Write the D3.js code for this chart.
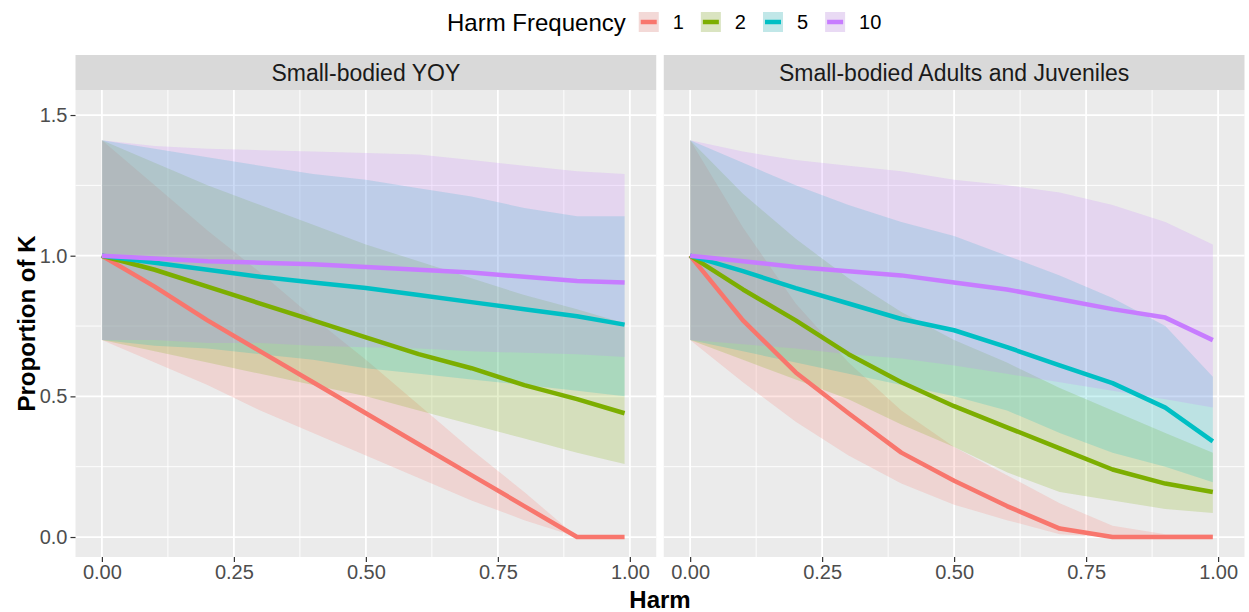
<!DOCTYPE html>
<html lang="en">
<head>
<meta charset="utf-8" />
<title>Proportion of K by Harm</title>
<style>
   body { margin:0; background:#fff; font-family:"Liberation Sans", Arial, sans-serif; }
   text { font-family:"Liberation Sans", Arial, sans-serif; }
   .tick text { font-size:20px; fill:#4D4D4D; }
   .tick line { stroke:#333333; stroke-width:1.2; }
   .domain { display:none; }
</style>
<script src="https://d3js.org/d3.v7.min.js"></script>
</head>
<body>
<svg id="main" width="1249" height="612"></svg>
<script>
// data
var harm = [0, 0.1, 0.2, 0.3, 0.4, 0.5, 0.6, 0.7, 0.8, 0.9, 0.99];
var freqs = ['1', '2', '5', '10'];
var colors = ['#F8766D', '#7CAE00', '#00BFC4', '#C77CFF'];
var panels = ['Small-bodied YOY', 'Small-bodied Adults and Juveniles'];
var xTicks = [0, 0.25, 0.5, 0.75, 1];
var yTicks = [0, 0.5, 1, 1.5];

// Small-bodied YOY (one row per harm frequency)
var yoyMean = [
   [1.0, 0.89, 0.77, 0.66, 0.55, 0.44, 0.33, 0.22, 0.11, 0.0, 0.0],
   [1.0, 0.95, 0.89, 0.83, 0.77, 0.71, 0.65, 0.60, 0.54, 0.49, 0.44],
   [1.0, 0.975, 0.95, 0.925, 0.905, 0.885, 0.86, 0.835, 0.81, 0.785, 0.755],
   [1.0, 0.99, 0.98, 0.975, 0.97, 0.96, 0.95, 0.94, 0.925, 0.91, 0.905]
];
var yoyLow = [
   [0.70, 0.62, 0.54, 0.45, 0.37, 0.29, 0.21, 0.13, 0.06, 0.0, 0.0],
   [0.70, 0.66, 0.62, 0.58, 0.54, 0.50, 0.45, 0.40, 0.35, 0.30, 0.26],
   [0.70, 0.68, 0.67, 0.65, 0.63, 0.60, 0.58, 0.56, 0.54, 0.52, 0.50],
   [0.70, 0.70, 0.69, 0.69, 0.68, 0.675, 0.67, 0.66, 0.655, 0.65, 0.64]
];
var yoyHigh = [
   [1.41, 1.25, 1.09, 0.94, 0.78, 0.63, 0.47, 0.31, 0.16, 0.0, 0.0],
   [1.41, 1.33, 1.25, 1.18, 1.11, 1.04, 0.98, 0.92, 0.86, 0.81, 0.76],
   [1.41, 1.38, 1.35, 1.32, 1.29, 1.27, 1.24, 1.21, 1.17, 1.14, 1.14],
   [1.41, 1.39, 1.38, 1.375, 1.37, 1.365, 1.36, 1.34, 1.32, 1.30, 1.29]
];

// Small-bodied Adults and Juveniles
var adjMean = [
   [1.0, 0.77, 0.585, 0.44, 0.30, 0.20, 0.11, 0.03, 0.0, 0.0, 0.0],
   [1.0, 0.88, 0.77, 0.65, 0.55, 0.465, 0.39, 0.315, 0.24, 0.19, 0.16],
   [1.0, 0.945, 0.885, 0.83, 0.775, 0.735, 0.675, 0.61, 0.547, 0.46, 0.34],
   [1.0, 0.98, 0.96, 0.945, 0.93, 0.905, 0.88, 0.845, 0.81, 0.78, 0.70]
];
var adjLow = [
   [0.70, 0.55, 0.41, 0.29, 0.19, 0.115, 0.06, 0.01, 0.0, 0.0, 0.0],
   [0.70, 0.63, 0.56, 0.49, 0.40, 0.32, 0.23, 0.16, 0.13, 0.10, 0.085],
   [0.70, 0.66, 0.62, 0.58, 0.54, 0.50, 0.45, 0.37, 0.30, 0.25, 0.195],
   [0.70, 0.685, 0.67, 0.65, 0.635, 0.61, 0.58, 0.55, 0.52, 0.49, 0.46]
];
var adjHigh = [
   [1.41, 1.10, 0.83, 0.62, 0.45, 0.32, 0.22, 0.12, 0.04, 0.01, 0.01],
   [1.41, 1.22, 1.06, 0.92, 0.80, 0.70, 0.62, 0.53, 0.45, 0.37, 0.30],
   [1.41, 1.33, 1.25, 1.18, 1.12, 1.07, 1.00, 0.93, 0.85, 0.75, 0.57],
   [1.41, 1.37, 1.34, 1.32, 1.30, 1.27, 1.25, 1.225, 1.18, 1.12, 1.04]
];

var panelData = [
   {mean:yoyMean, low:yoyLow, high:yoyHigh},
   {mean:adjMean, low:adjLow, high:adjHigh}
];

// layout
var plotLeft = 75.5, plotRight = 1244.5, gap = 7.5;
var panelW = (plotRight - plotLeft - gap) / 2;
var stripTop = 55, panelTop = 90, panelBottom = 557;

var svg = d3.select('#main');
var y = d3.scaleLinear().domain([-0.071, 1.589]).range([panelBottom, panelTop]);

function fdrawpanel(p) {
   var x0 = plotLeft + p * (panelW + gap);
   var x = d3.scaleLinear().domain([-0.05, 1.05]).range([x0, x0 + panelW]);
   var g = svg.append('g');

   // strip
   g.append('rect').attr('x', x0).attr('y', stripTop).attr('width', panelW)
      .attr('height', panelTop - stripTop).attr('fill', '#D9D9D9');
   g.append('text').attr('x', x0 + panelW / 2).attr('y', (stripTop + panelTop) / 2)
      .attr('dy', '0.36em').attr('text-anchor', 'middle')
      .style('font-size', '23px').style('fill', '#1A1A1A').text(panels[p]);

   // panel background and grid
   g.append('rect').attr('x', x0).attr('y', panelTop).attr('width', panelW)
      .attr('height', panelBottom - panelTop).attr('fill', '#EBEBEB');
   var yMinor = [0.25, 0.75, 1.25], xMinor = [0.125, 0.375, 0.625, 0.875];
   g.selectAll('.ymin').data(yMinor).enter().append('line')
      .attr('x1', x0).attr('x2', x0 + panelW).attr('y1', d => y(d)).attr('y2', d => y(d))
      .attr('stroke', '#fff').attr('stroke-width', 0.9);
   g.selectAll('.xmin').data(xMinor).enter().append('line')
      .attr('y1', panelTop).attr('y2', panelBottom).attr('x1', d => x(d)).attr('x2', d => x(d))
      .attr('stroke', '#fff').attr('stroke-width', 0.9);
   g.selectAll('.ymaj').data(yTicks).enter().append('line')
      .attr('x1', x0).attr('x2', x0 + panelW).attr('y1', d => y(d)).attr('y2', d => y(d))
      .attr('stroke', '#fff').attr('stroke-width', 1.8);
   g.selectAll('.xmaj').data(xTicks).enter().append('line')
      .attr('y1', panelTop).attr('y2', panelBottom).attr('x1', d => x(d)).attr('x2', d => x(d))
      .attr('stroke', '#fff').attr('stroke-width', 1.8);

   // ribbons
   var d = panelData[p];
   var area = d3.area().x(i => x(harm[i])).y0(i => y(lowArr[i])).y1(i => y(highArr[i]));
   var idx = d3.range(harm.length);
   var lowArr, highArr;
   for (var k = 0; k < freqs.length; k++) {
      lowArr = d.low[k]; highArr = d.high[k];
      g.append('path').attr('d', area(idx)).attr('fill', colors[k]).attr('fill-opacity', 0.2);
   }
   // lines
   var line = d3.line().x((v, i) => x(harm[i])).y(v => y(v));
   for (var k = 0; k < freqs.length; k++) {
      g.append('path').attr('d', line(d.mean[k])).attr('fill', 'none')
         .attr('stroke', colors[k]).attr('stroke-width', 4.5).attr('stroke-linejoin', 'round');
   }

   // x axis
   svg.append('g').attr('transform', 'translate(0,' + panelBottom + ')')
      .call(d3.axisBottom(x).tickValues(xTicks).tickFormat(d3.format('.2f')).tickSize(5).tickPadding(3));
   if (p === 0) {
      svg.append('g').attr('transform', 'translate(' + x0 + ',0)')
         .call(d3.axisLeft(y).tickValues(yTicks).tickFormat(d3.format('.1f')).tickSize(5).tickPadding(3));
   }
}

fdrawpanel(0);
fdrawpanel(1);

// axis titles
svg.append('text').attr('x', (plotLeft + plotRight) / 2).attr('y', 608)
   .attr('text-anchor', 'middle').style('font-size', '24px').style('font-weight', 'bold')
   .style('fill', '#000').text('Harm');
svg.append('text').attr('transform', 'translate(35,' + ((panelTop + panelBottom) / 2) + ') rotate(-90)')
   .attr('text-anchor', 'middle').style('font-size', '24px').style('font-weight', 'bold')
   .style('fill', '#000').text('Proportion of K');

// legend
var lg = svg.append('g');
var lt = lg.append('text').attr('x', 447).attr('y', 22).attr('dy', '0.36em')
   .style('font-size', '24px').style('fill', '#000').text('Harm Frequency');
var cx = 447 + lt.node().getComputedTextLength() + 13;
var key = 20;
freqs.forEach(function(f, k) {
   lg.append('rect').attr('x', cx).attr('y', 22 - key / 2).attr('width', key).attr('height', key).attr('fill', '#F2F2F2');
   lg.append('rect').attr('x', cx).attr('y', 22 - key / 2).attr('width', key).attr('height', key)
      .attr('fill', colors[k]).attr('fill-opacity', 0.2);
   lg.append('line').attr('x1', cx + 2).attr('x2', cx + key - 2).attr('y1', 22).attr('y2', 22)
      .attr('stroke', colors[k]).attr('stroke-width', 4.5);
   var t = lg.append('text').attr('x', cx + key + 14).attr('y', 22).attr('dy', '0.36em')
      .style('font-size', '20px').style('fill', '#000').text(f);
   cx = cx + key + 14 + t.node().getComputedTextLength() + 17;
});
</script>
</body>
</html>
